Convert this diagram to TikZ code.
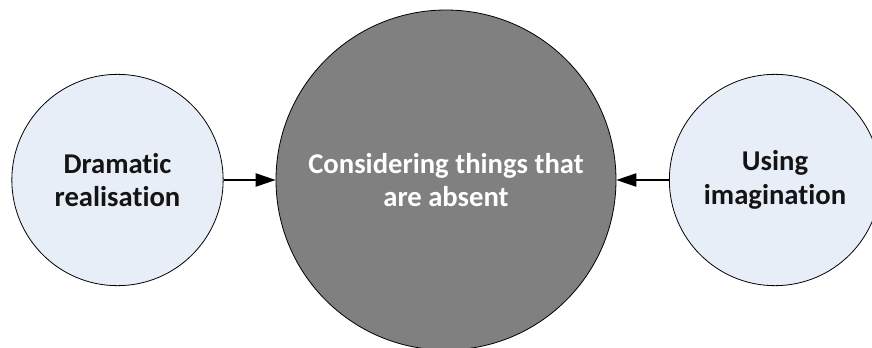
\documentclass[tikz,border=0pt]{standalone}
\usepackage{fontspec}
\setmainfont[Ligatures={NoCommon}]{Carlito}
\usetikzlibrary{arrows.meta}
\definecolor{lightfill}{RGB}{232,238,248}
\definecolor{darkfill}{RGB}{128,128,128}
\definecolor{txt}{RGB}{20,20,20}
\tikzset{
  small/.style={circle, draw=black, line width=0.6pt, fill=lightfill, minimum size=158.5pt, inner sep=0pt,
    align=center, text=txt, font=\bfseries\fontsize{21.5}{25}\selectfont},
  big/.style={circle, draw=black, line width=0.6pt, fill=darkfill, minimum size=255pt, inner sep=0pt,
    align=center, text=white, font=\bfseries\fontsize{21.5}{25}\selectfont},
  conn/.style={line width=1.1pt, -{Triangle[length=15pt,width=10pt]}, shorten >=0pt}
}
\begin{document}
\begin{tikzpicture}[x=0.75pt,y=-0.75pt]
\useasboundingbox (0,0) rectangle (872,347);
\clip (0,0) rectangle (872,347);
\node[small] (L) at (117.5,180) {Dramatic\\realisation};
\node[big] (C) at (446,180) {Considering things that\\are absent};
\node[small] (R) at (775,180) {Using\\imagination};
\draw[conn] (L.east) -- (C.west);
\draw[conn] (R.west) -- (C.east);
\end{tikzpicture}
\end{document}
